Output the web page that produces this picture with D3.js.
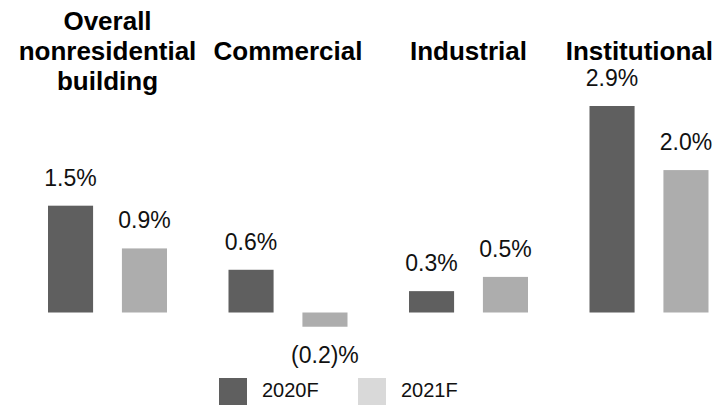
<!DOCTYPE html>
<html>
<head>
<meta charset="utf-8">
<script src="https://cdn.jsdelivr.net/npm/d3@7"></script>
<style>
  body { margin: 0; background: #fff; }
  svg { display: block; font-family: "Liberation Sans", Arial, sans-serif; }
</style>
</head>
<body>
<svg id="chart" width="717" height="405"></svg>
<script>
// chart data
var categories = ['Overall nonresidential building', 'Commercial', 'Industrial', 'Institutional'];
var titleLines = [['Overall', 'nonresidential', 'building'], ['Commercial'], ['Industrial'], ['Institutional']];
var series = ['2020F', '2021F'];
var values2020 = [1.5, 0.6, 0.3, 2.9];
var values2021 = [0.9, -0.2, 0.5, 2.0];

var width = 717, height = 405;
var barColor = d3.scaleOrdinal().domain(series).range(['#5f5f5f', '#adadad']);
var legendColor = d3.scaleOrdinal().domain(series).range(['#5f5f5f', '#d9d9d9']);

const svg = d3.select('#chart');

var rows = categories.map(function(c, i) {
  return { cat: c, lines: titleLines[i], vals: [
    { s: series[0], v: values2020[i] },
    { s: series[1], v: values2021[i] }
  ] };
});

var x0 = d3.scaleBand().domain(categories).range([17, 739]).padding(0);
var x1 = d3.scaleBand().domain(series).range([31, 150]).paddingInner(0.39);
var y = d3.scaleLinear().domain([0, 2.9]).range([312.5, 106]);

function fmt(v) {
  return v < 0 ? '(' + Math.abs(v).toFixed(1) + ')%' : v.toFixed(1) + '%';
}

// category titles
const titles = svg.append('g').attr('class', 'titles');
rows.forEach(function(r) {
  var cx = x0(r.cat) + (x1(series[0]) + x1(series[1]) + x1.bandwidth()) / 2;
  var t = titles.append('text')
    .attr('text-anchor', 'middle')
    .attr('font-weight', 'bold')
    .attr('font-size', '26px')
    .attr('fill', '#000');
  r.lines.forEach(function(line, i) {
    t.append('tspan')
      .attr('x', cx)
      .attr('y', 59.5 + (i - (r.lines.length - 1) / 2) * 30)
      .text(line);
  });
  // keep the last title inside the frame
  var bb = t.node().getBBox();
  if (bb.x + bb.width > width - 4) {
    var shift = bb.x + bb.width - (width - 4);
    t.selectAll('tspan').attr('x', cx - shift);
  }
});

// bars
const groups = svg.append('g').selectAll('g')
  .data(rows)
  .enter().append('g')
  .attr('transform', function(d) { return 'translate(' + x0(d.cat) + ',0)'; });

groups.selectAll('rect')
  .data(function(d) { return d.vals; })
  .enter().append('rect')
  .attr('x', function(d) { return x1(d.s); })
  .attr('width', x1.bandwidth())
  .attr('y', function(d) { return Math.min(y(d.v), y(0)); })
  .attr('height', function(d) { return Math.abs(y(d.v) - y(0)); })
  .attr('fill', function(d) { return barColor(d.s); });

groups.selectAll('text')
  .data(function(d) { return d.vals; })
  .enter().append('text')
  .attr('x', function(d) { return x1(d.s) + x1.bandwidth() / 2; })
  .attr('y', function(d) { return d.v < 0 ? y(d.v) + 36 : y(d.v) - 20; })
  .attr('text-anchor', 'middle')
  .attr('font-size', '23px')
  .attr('fill', '#111')
  .text(function(d) { return fmt(d.v); });

// legend
var legendX = d3.scaleOrdinal().domain(series).range([219, 358]);
const legend = svg.append('g').selectAll('g')
  .data(series)
  .enter().append('g')
  .attr('transform', function(d) { return 'translate(' + legendX(d) + ',378)'; });

legend.append('rect')
  .attr('width', 28)
  .attr('height', 27)
  .attr('fill', function(d) { return legendColor(d); });

legend.append('text')
  .attr('x', 43)
  .attr('y', 19)
  .attr('font-size', '20px')
  .attr('fill', '#111')
  .text(function(d) { return d; });
</script>
</body>
</html>
